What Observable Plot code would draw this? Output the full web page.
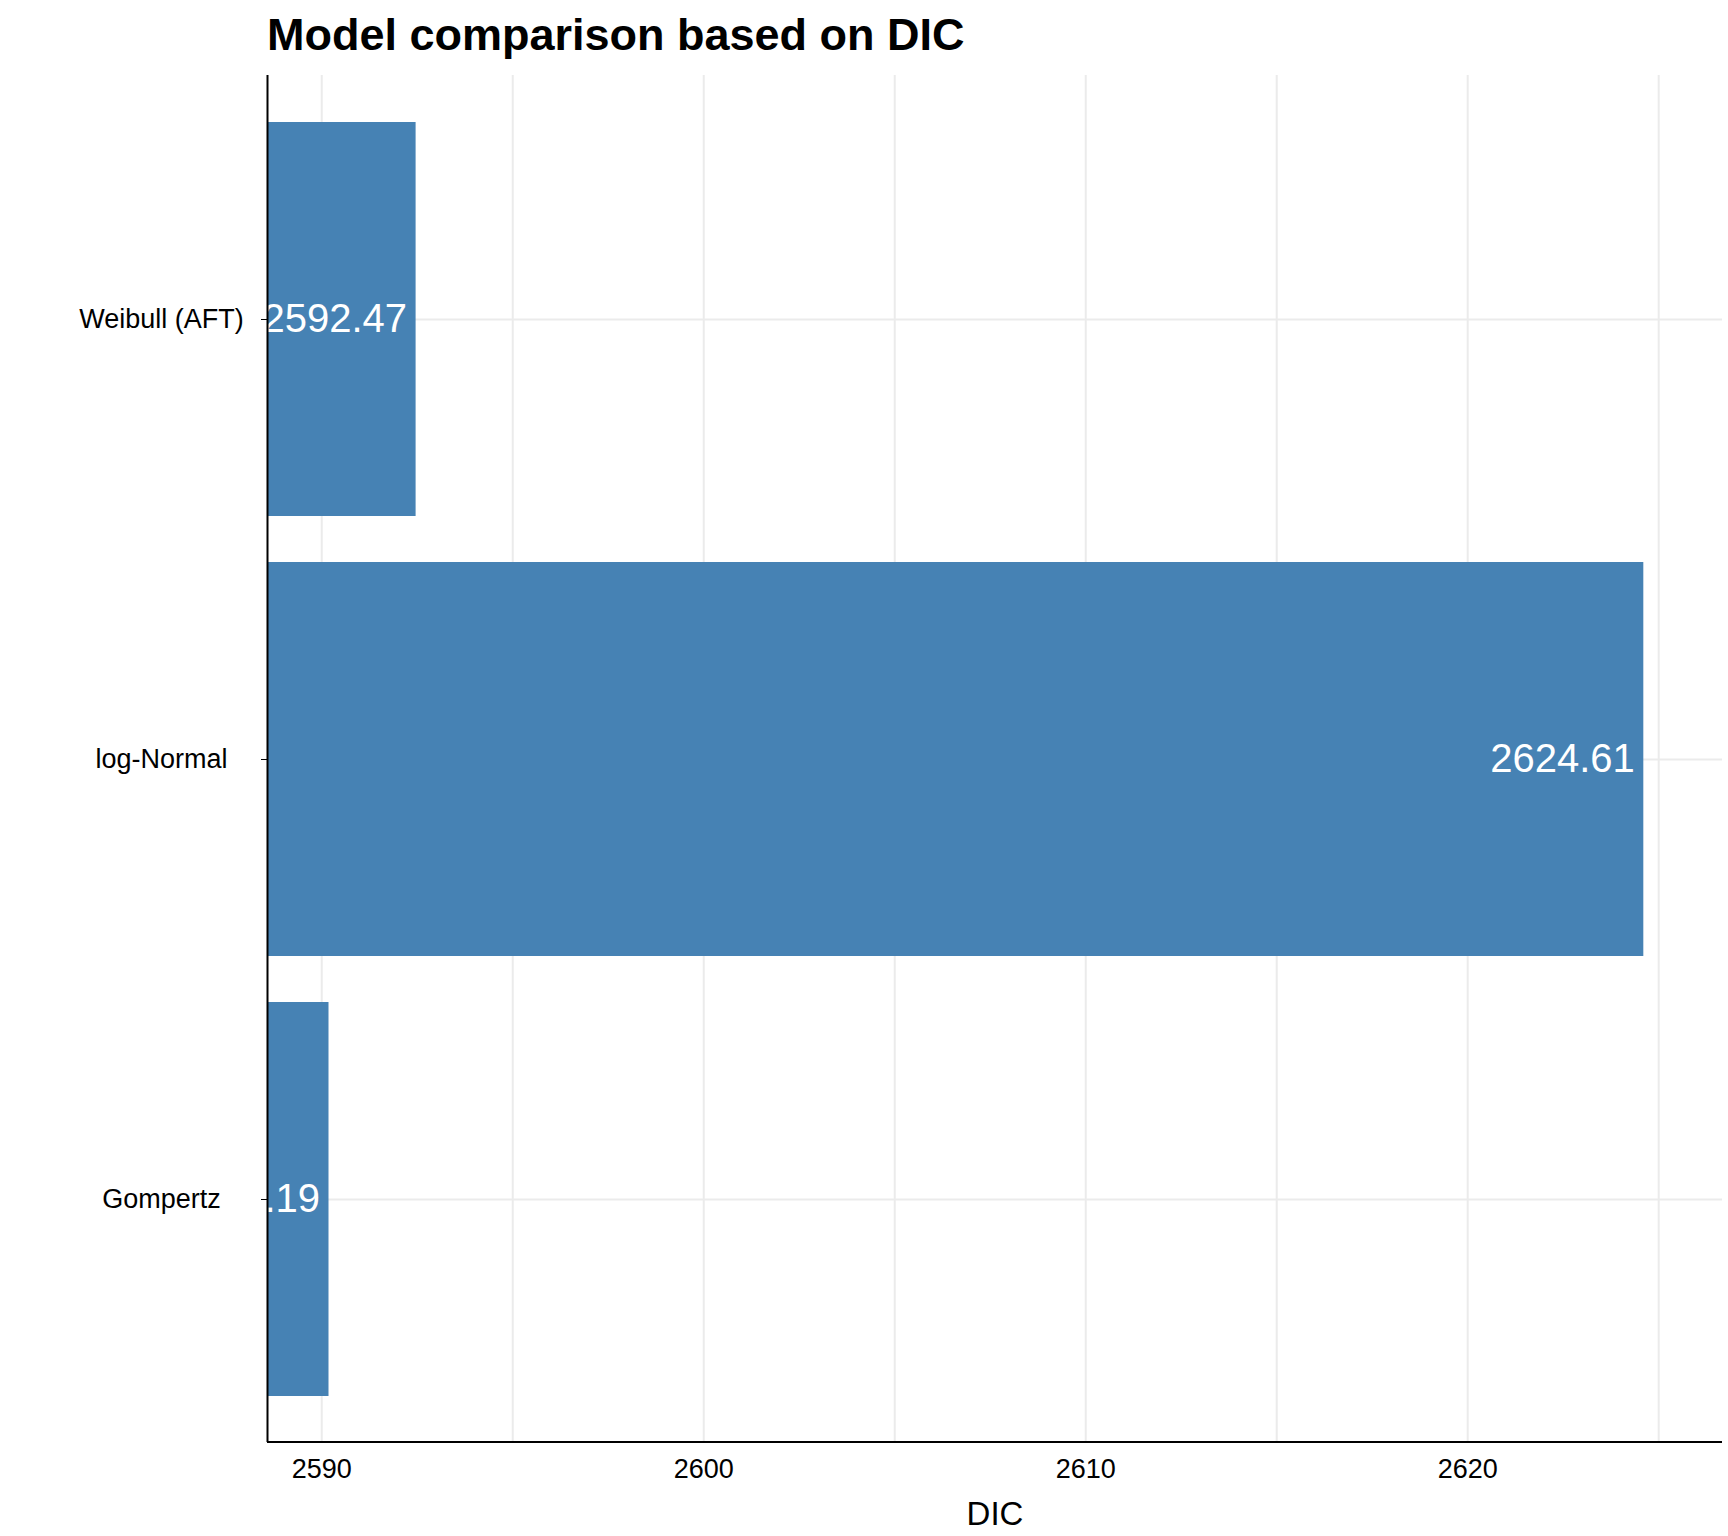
<!DOCTYPE html>
<html><head><meta charset="utf-8">
<script src="https://cdn.jsdelivr.net/npm/d3@7"></script>
<script src="https://cdn.jsdelivr.net/npm/@observablehq/plot@0.6"></script>
<style>body{margin:0;background:#fff;font-family:"Liberation Sans",Arial,sans-serif}
#t{height:75px;padding-left:267px;font-weight:bold;font-size:45px;line-height:70px}</style>
</head><body><div id="t">Model comparison based on DIC</div><div id="c"></div>
<script>
const models = ["Weibull (AFT)", "log-Normal", "Gompertz"];
const dic = [2592.47, 2624.61, 2590.19];
const xTicks = [2590, 2600, 2610, 2620];
const xMinor = [2595, 2605, 2615, 2625];
const data = models.map((m,i)=>({model:m, dic:dic[i]}));
const xmin = 2588.58, xmax = 2626.67;
const chart = Plot.plot({
  width:1728, height:1461, marginLeft:267, marginRight:6, marginTop:0, marginBottom:94,
  style:{fontFamily:"Liberation Sans, Arial, sans-serif", fontSize:"27px", color:"#000"},
  x:{domain:[xmin,xmax]},
  y:{domain:models, padding:0.105},
  marks:[
    Plot.ruleX(xTicks.concat(xMinor), {stroke:"#ebebeb", strokeWidth:2}),
    Plot.ruleY(models, {y:d=>d, stroke:"#ebebeb", strokeWidth:2}),
    Plot.barX(data, {y:"model", x1:()=>xmin, x2:"dic", fill:"steelblue", clip:true}),
    Plot.text(data, {y:"model", x:"dic", text:d=>d.dic.toFixed(2), textAnchor:"end", dx:-9, fill:"white", fontSize:40, clip:true}),
    Plot.axisX({ticks:xTicks, tickSize:0, tickPadding:16, fontSize:27, tickFormat:d=>String(d), label:"DIC", labelArrow:"none", labelAnchor:"center", labelOffset:82}),
    Plot.axisY({tickSize:6, tickPadding:100, textAnchor:"middle", fontSize:27, label:null}),
    Plot.ruleX([xmin], {stroke:"black", strokeWidth:2})
  ]
});
document.getElementById("c").append(chart);
d3.select(chart).selectAll("[aria-label='x-axis label'] text").style("font-size","33px");
d3.select(chart).append("line").attr("x1",267).attr("x2",1722).attr("y1",1367).attr("y2",1367).attr("stroke","black").attr("stroke-width",2);
</script></body></html>
